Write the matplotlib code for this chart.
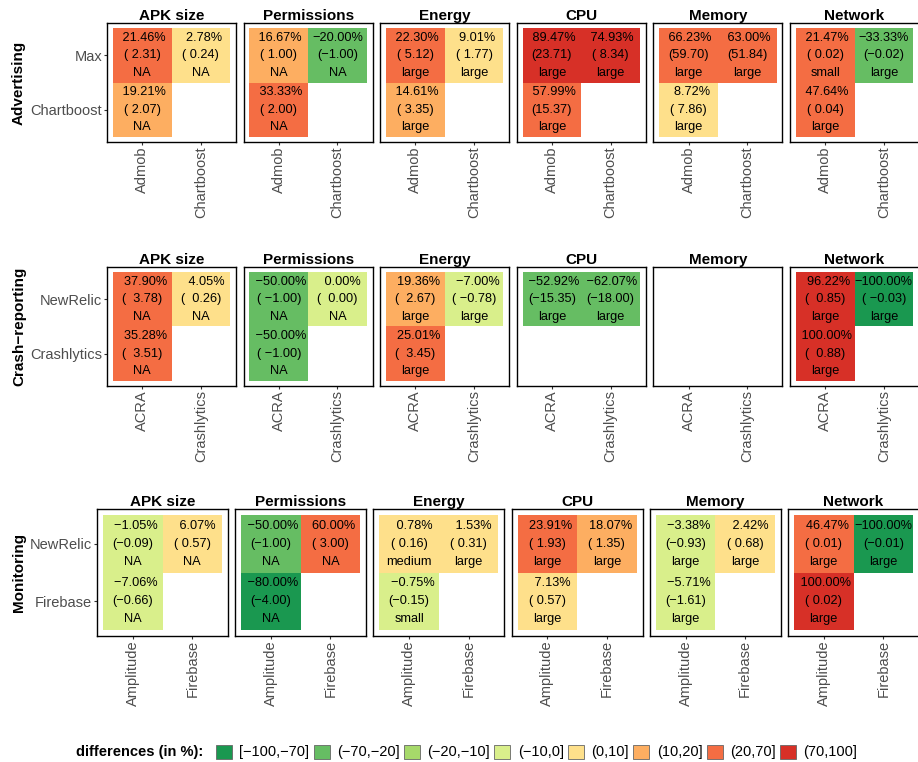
import matplotlib.pyplot as plt
import numpy as np
import pandas as pd
from matplotlib.colors import ListedColormap
from matplotlib.patches import Patch

plt.rcParams["font.family"] = ["Liberation Sans", "DejaVu Sans"]

groups = ["Advertising", "Crash-reporting", "Monitoring"]
metrics = ["APK size", "Permissions", "Energy", "CPU", "Memory", "Network"]
row_labels = [["Max", "Chartboost"], ["NewRelic", "Crashlytics"], ["NewRelic", "Firebase"]]
col_labels = [["Admob", "Chartboost"], ["ACRA", "Crashlytics"], ["Amplitude", "Firebase"]]

nan = np.nan
# per metric: [top-left, top-right, bottom-left]
adv_pct = [[21.46, 2.78, 19.21], [16.67, -20.00, 33.33], [22.30, 9.01, 14.61],
           [89.47, 74.93, 57.99], [66.23, 63.00, 8.72], [21.47, -33.33, 47.64]]
adv_diff = [[2.31, 0.24, 2.07], [1.00, -1.00, 2.00], [5.12, 1.77, 3.35],
            [23.71, 8.34, 15.37], [59.70, 51.84, 7.86], [0.02, -0.02, 0.04]]
adv_effect = [["NA", "NA", "NA"], ["NA", "NA", "NA"], ["large", "large", "large"],
              ["large", "large", "large"], ["large", "large", "large"], ["small", "large", "large"]]

crash_pct = [[37.90, 4.05, 35.28], [-50.00, 0.00, -50.00], [19.36, -7.00, 25.01],
             [-52.92, -62.07, nan], [nan, nan, nan], [96.22, -100.00, 100.00]]
crash_diff = [[3.78, 0.26, 3.51], [-1.00, 0.00, -1.00], [2.67, -0.78, 3.45],
              [-15.35, -18.00, nan], [nan, nan, nan], [0.85, -0.03, 0.88]]
crash_effect = [["NA", "NA", "NA"], ["NA", "NA", "NA"], ["large", "large", "large"],
                ["large", "large", ""], ["", "", ""], ["large", "large", "large"]]

mon_pct = [[-1.05, 6.07, -7.06], [-50.00, 60.00, -80.00], [0.78, 1.53, -0.75],
           [23.91, 18.07, 7.13], [-3.38, 2.42, -5.71], [46.47, -100.00, 100.00]]
mon_diff = [[-0.09, 0.57, -0.66], [-1.00, 3.00, -4.00], [0.16, 0.31, -0.15],
            [1.93, 1.35, 0.57], [-0.93, 0.68, -1.61], [0.01, -0.01, 0.02]]
mon_effect = [["NA", "NA", "NA"], ["NA", "NA", "NA"], ["medium", "large", "small"],
              ["large", "large", "large"], ["large", "large", "large"], ["large", "large", "large"]]

all_pct = [adv_pct, crash_pct, mon_pct]
all_diff = [adv_diff, crash_diff, mon_diff]
all_effect = [adv_effect, crash_effect, mon_effect]

bins = [-100, -70, -20, -10, 0, 10, 20, 70, 100]
bin_labels = ["[−100,−70]", "(−70,−20]", "(−20,−10]", "(−10,0]",
              "(0,10]", "(10,20]", "(20,70]", "(70,100]"]
colors = ["#1a9850", "#66bd63", "#a6d96a", "#d9ef8b",
          "#fee08b", "#fdae61", "#f46d43", "#d73027"]
cmap = ListedColormap(colors)

W, H = 918, 762
fig = plt.figure(figsize=(W / 100, H / 100), dpi=100)

# layout in pixels per row: top, height, left, panel width, step
row_top = [23, 267, 509]
row_h = [119, 119, 127]
row_left = [107, 107, 97]
panel_w = [129, 129, 131]
step = [136.6, 136.6, 138.2]


def fmt_col(vals, wrap):
    ok = [v for v in vals if not np.isnan(v)]
    w = max(len(f"{v:.2f}") for v in ok)
    return [wrap.format(f"{v:>{w}.2f}").replace("-", "−") if not np.isnan(v) else "" for v in vals]


for g in range(3):
    flat_pct = [v for m in all_pct[g] for v in m]
    flat_diff = [v for m in all_diff[g] for v in m]
    pct_s = fmt_col(flat_pct, "{}%")
    diff_s = fmt_col(flat_diff, "({})")
    cells = [(0, 0), (0, 1), (1, 0)]
    dy = 0.33 if g < 2 else 0.31
    for m in range(6):
        left = row_left[g] + m * step[g]
        ax = fig.add_axes([left / W, 1 - (row_top[g] + row_h[g]) / H, panel_w[g] / W, row_h[g] / H])
        grid = np.full((2, 2), np.nan)
        for k, (r, c) in enumerate(cells):
            grid[r, c] = all_pct[g][m][k]
        idx = pd.cut(grid.ravel(), bins=bins, labels=False, include_lowest=True, right=True)
        idx = np.ma.masked_invalid(np.asarray(idx, dtype=float).reshape(2, 2))
        ax.pcolormesh([0.5, 1.5, 2.5], [0.5, 1.5, 2.5], idx, cmap=cmap, vmin=-0.5, vmax=7.5,
                      antialiased=False, linewidth=0)
        for k, (r, c) in enumerate(cells):
            if np.isnan(all_pct[g][m][k]):
                continue
            i = m * 3 + k
            ax.text(c + 1, r + 1 - dy, pct_s[i], ha="center", va="center", fontsize=9.2)
            ax.text(c + 1, r + 1, diff_s[i], ha="center", va="center", fontsize=9.2)
            ax.text(c + 1, r + 1 + dy, all_effect[g][m][k], ha="center", va="center", fontsize=9.2)
        ax.set_xlim(0.4, 2.6)
        ax.set_ylim(2.6, 0.4)
        ax.set_xticks([1, 2])
        ax.set_xticklabels(col_labels[g], rotation=90)
        ax.set_yticks([1, 2])
        if m == 0:
            ax.set_yticklabels(row_labels[g])
        else:
            ax.tick_params(axis="y", left=False, labelleft=False)
        ax.tick_params(length=2.5, width=0.8, color="#333333", labelcolor="#4d4d4d",
                       labelsize=10.5, pad=1.0)
        ax.tick_params(axis="x", pad=0.6)
        for s in ax.spines.values():
            s.set_linewidth(1.0)
            s.set_color("black")
        ax.set_title(metrics[m], fontsize=11, fontweight="bold", pad=2)
    fig.text(19 / W, 1 - (row_top[g] + row_h[g] / 2) / H, groups[g].replace("-", "−"),
             rotation=90, ha="center", va="center", fontsize=11, fontweight="bold")

handles = [Patch(facecolor=c, edgecolor="#666666", linewidth=0.6) for c in colors]
fig.text(76 / W, 1 - 752 / H, "differences (in %):", ha="left", va="center",
         fontsize=10.5, fontweight="bold")
fig.legend(handles, bin_labels, loc="center left", bbox_to_anchor=(216 / W, 1 - 752 / H),
           ncol=8, frameon=False, fontsize=10.5, handlelength=1.1, handleheight=1.1,
           handletextpad=0.5, columnspacing=0.3, borderpad=0, borderaxespad=0)

fig.savefig("out.png", dpi=100)
